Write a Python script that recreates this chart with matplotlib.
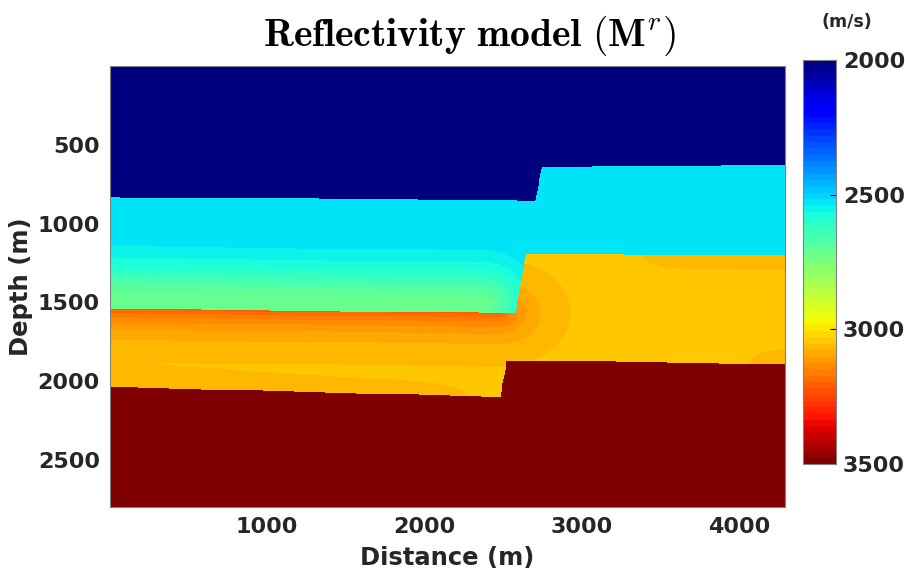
import numpy as np
import matplotlib
matplotlib.use("Agg")
import matplotlib.pyplot as plt

plt.rcParams['mathtext.fontset'] = 'cm'

# velocities (m/s)
v_water = 2000
v_cyan = 2525
v_block = 3043
v_base = 3500
green_amp = 190     # tongue above the orange layer (left block)
red_amp = 160       # top of the orange-red layer (left block)

# fault trace (x, depth) in m
fault_x = [2740, 2478]
fault_z = [640, 2095]

# left block interfaces
left_x = [0, 2650]
left_top = [832, 853]
left_green = [1491, 1521]
left_red = [1541, 1571]
left_bottom = [2038, 2105]

# right block interfaces
right_x = [2650, 4290]
right_top = [640, 630]
right_orange = [1196, 1200]
right_bottom = [1869, 1894]

# thickness of the slower lenses (3066 m/s)
lens_left_x = [0, 1400, 2000, 2150, 2230, 2270]
lens_left_t = [165, 100, 85, 60, 40, 0]
lens_rtop_x = [3370, 3420, 3500, 3650, 4290]
lens_rtop_t = [0, 50, 75, 90, 95]
lens_rbot_x = [4050, 4090, 4150, 4290]
lens_rbot_t = [0, 50, 75, 95]

# model grid
dx = 5
x = np.arange(0, 4290, dx) + dx / 2
z = np.arange(0, 2800, dx) + dx / 2
X, Z = np.meshgrid(x, z)

slope = (fault_x[1] - fault_x[0]) / (fault_z[1] - fault_z[0])
xf = fault_x[0] + (Z - fault_z[0]) * slope
is_left = X < xf


def lens(xs, ts, h, X):
    t = np.interp(X, xs, ts, left=0, right=ts[-1])
    b = np.minimum(12 * np.exp((t - h) / 40), 30)
    return np.where(t > 0, b, 0)


# green tongue (gaussian around an axis that stops near the fault)
xe2 = 2380
yg = np.interp(np.minimum(X, xe2), left_x, left_green)
dg = np.hypot(np.maximum(X - xe2, 0), Z - yg)
green = green_amp * np.exp(-(dg / 215) ** 2)

# orange-red tongue, spreading round the fault corner
xe1 = 2470
yr = np.interp(np.minimum(X, xe1), left_x, left_red)
dr = np.hypot(0.75 * np.maximum(X - xe1, 0), Z - yr)
red = red_amp * np.exp(-dr / 130)

lt = np.interp(X, left_x, left_top)
lr = np.interp(X, left_x, left_red)
lb = np.interp(X, left_x, left_bottom)
rt = np.interp(X, right_x, right_top)
ro = np.interp(X, right_x, right_orange)
rb = np.interp(X, right_x, right_bottom)

V = np.full(X.shape, float(v_cyan))
# left block
V = np.where(is_left & (Z >= lt) & (Z < lr), v_cyan + green, V)
lens_l = lens(lens_left_x, lens_left_t, lb - Z, X)
V = np.where(is_left & (Z >= lr) & (Z < lb), v_block + np.maximum(red, lens_l), V)
V = np.where(is_left & (Z < lt), v_water, V)
V = np.where(is_left & (Z >= lb), v_base, V)
# right block
lens_r = np.maximum(lens(lens_rtop_x, lens_rtop_t, Z - ro, X),
                    lens(lens_rbot_x, lens_rbot_t, rb - Z, X))
V = np.where(~is_left & (Z >= ro) & (Z < rb), v_block + np.maximum(red, lens_r), V)
V = np.where(~is_left & (Z < rt), v_water, V)
V = np.where(~is_left & (Z >= rb), v_base, V)

fig = plt.figure(figsize=(9.05, 5.71), dpi=100)
ax = fig.add_axes([0.121, 0.1121, 0.7464, 0.7723])
im = ax.imshow(V, cmap=plt.get_cmap('jet', 64), vmin=2000, vmax=3500,
               extent=[0, 4290, 2800, 0], interpolation='nearest', aspect='equal')

tc = '#262626'
ax.set_xticks([1000, 2000, 3000, 4000])
ax.set_yticks([500, 1000, 1500, 2000, 2500])
ax.tick_params(length=0, labelsize=16, labelcolor=tc, pad=7)
for lab in ax.get_xticklabels() + ax.get_yticklabels():
    lab.set_fontweight('bold')
ax.set_xlabel('Distance (m)', fontsize=17.5, fontweight='bold', color=tc, labelpad=7)
ax.set_ylabel('Depth (m)', fontsize=17.5, fontweight='bold', color=tc, labelpad=3)
for sp in ax.spines.values():
    sp.set_color('0.5')
    sp.set_linewidth(0.8)

fig.text(469 / 905, 1 - 46 / 571,
         r'$\mathbf{Reflectivity\ model\ (M}^{r}\mathbf{)}$',
         ha='center', va='baseline', fontsize=28.5, color='black')

cax = fig.add_axes([0.8873, 0.1874, 0.0365, 0.7075])
cb = fig.colorbar(im, cax=cax, ticks=[2000, 2500, 3000, 3500])
cax.invert_yaxis()
cax.tick_params(direction='in', length=4, width=0.8, labelsize=16,
                labelcolor=tc, pad=5)
for lab in cax.get_yticklabels():
    lab.set_fontweight('bold')
cb.outline.set_edgecolor('0.5')
cb.outline.set_linewidth(0.8)
fig.text(847 / 905, 1 - 22 / 571, '(m/s)', ha='center', va='center',
         fontsize=12.5, fontweight='bold', color=tc)

fig.savefig('out.png', dpi=100)
